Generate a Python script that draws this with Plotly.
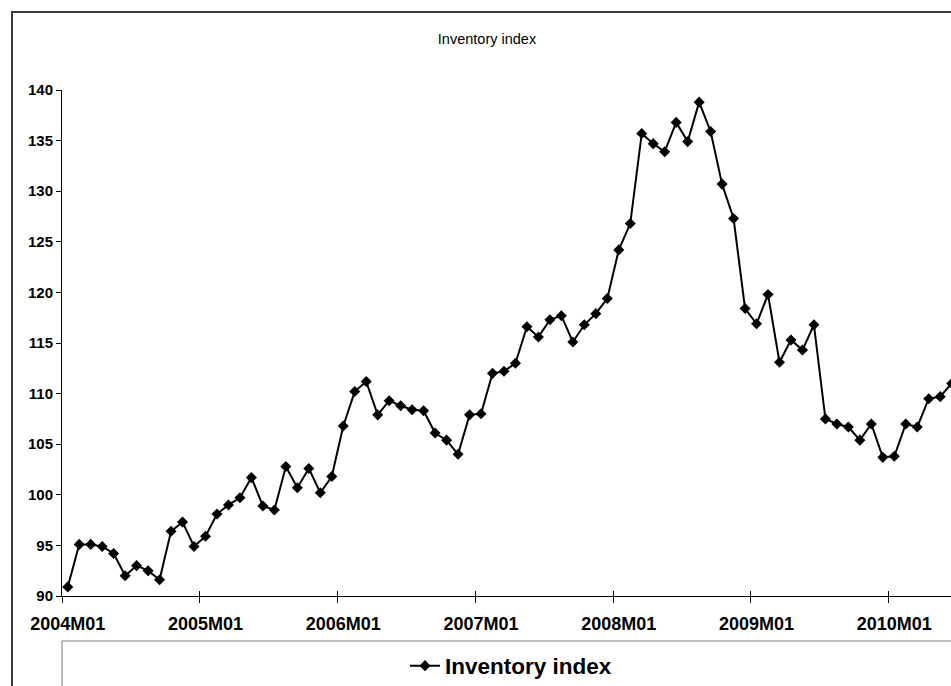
import plotly.graph_objects as go

# Monthly inventory index, starting 2004M01
start_year = 2004
inventory_index = [
    90.9, 95.1, 95.1, 94.9, 94.2, 92.0, 93.0, 92.5, 91.6, 96.4, 97.3, 94.9,
    95.9, 98.1, 99.0, 99.7, 101.7, 98.9, 98.5, 102.8, 100.7, 102.6, 100.2, 101.8,
    106.8, 110.2, 111.2, 107.9, 109.3, 108.8, 108.4, 108.3, 106.1, 105.4, 104.0, 107.9,
    108.0, 112.0, 112.2, 113.0, 116.6, 115.6, 117.3, 117.7, 115.1, 116.8, 117.9, 119.4,
    124.2, 126.8, 135.7, 134.7, 133.9, 136.8, 134.9, 138.8, 135.9, 130.7, 127.3, 118.4,
    116.9, 119.8, 113.1, 115.3, 114.3, 116.8, 107.5, 107.0, 106.7, 105.4, 107.0, 103.7,
    103.8, 107.0, 106.7, 109.5, 109.7, 111.0,
]
y_ticks = [90, 95, 100, 105, 110, 115, 120, 125, 130, 135, 140]

periods = [f"{start_year + i // 12}M{i % 12 + 1:02d}" for i in range(len(inventory_index))]
x_idx = list(range(len(inventory_index)))
year_starts = [i for i, p in enumerate(periods) if p.endswith("M01")]

W, H = 951, 686
L, R, T, B = 62, 0, 90, 90
plot_w = W - L - R
plot_h = H - T - B
cat_px = 11.48
x_range = [-0.5, -0.5 + plot_w / cat_px]


def px_x(px):
    return (px - L) / plot_w


def px_y(py):
    return (H - B - py) / plot_h


FONT = "Arial, Liberation Sans, sans-serif"

fig = go.Figure()
fig.add_trace(go.Scatter(
    x=x_idx, y=inventory_index, name="Inventory index",
    mode="lines+markers",
    line=dict(color="#000000", width=2),
    marker=dict(symbol="diamond", size=8.5, color="#000000"),
    cliponaxis=True,
))
# empty traces so the overlay axes (labels / upper tick marks) get drawn
for ax_name in ("x2", "x3"):
    fig.add_trace(go.Scatter(x=[], y=[], xaxis=ax_name, yaxis="y",
                             showlegend=False, hoverinfo="skip"))

axis_common = dict(range=x_range, showgrid=False, zeroline=False)

fig.update_layout(
    width=W, height=H,
    margin=dict(l=L, r=R, t=T, b=B, autoexpand=False),
    paper_bgcolor="white", plot_bgcolor="white",
    font=dict(family=FONT, color="#000000"),
    showlegend=True,
    title=dict(text="Inventory index", x=487 / W, xref="container", xanchor="center",
               y=1 - 39 / H, yref="container", yanchor="middle",
               font=dict(size=14.5, family=FONT, color="#000000")),
    # boundary tick marks below the axis line
    xaxis=dict(**axis_common, tickmode="array",
               tickvals=[i - 0.5 for i in year_starts], showticklabels=False,
               ticks="outside", ticklen=6, tickwidth=1, tickcolor="#000000",
               showline=True, linecolor="#000000", linewidth=1),
    # year labels centred on each January
    xaxis2=dict(**axis_common, overlaying="x", anchor="y", side="bottom",
                tickmode="array", tickvals=year_starts,
                ticktext=[periods[i] for i in year_starts],
                ticks="outside", ticklen=11, tickcolor="rgba(0,0,0,0)",
                tickfont=dict(size=18, family=FONT, weight="bold", color="#000000"),
                showline=False),
    # boundary tick marks above the axis line
    xaxis3=dict(**axis_common, overlaying="x", anchor="y", side="bottom",
                tickmode="array", tickvals=[i - 0.5 for i in year_starts],
                showticklabels=False, ticks="inside", ticklen=5, tickwidth=1,
                tickcolor="#000000", showline=False),
    yaxis=dict(range=[90, 140], tickmode="array", tickvals=y_ticks,
               showgrid=False, zeroline=False,
               ticks="outside", ticklen=5, tickwidth=1, tickcolor="#000000",
               showline=True, linecolor="#000000", linewidth=1,
               tickfont=dict(size=15, family=FONT, weight="bold", color="#000000")),
    legend=dict(orientation="h", x=px_x(405), xanchor="left",
                y=px_y(666), yanchor="middle", bgcolor="rgba(0,0,0,0)",
                font=dict(size=22.5, family=FONT, weight="bold", color="#000000")),
    shapes=[
        # chart area border
        dict(type="rect", xref="paper", yref="paper",
             x0=px_x(12), y0=px_y(H + 40), x1=px_x(W + 40), y1=px_y(12),
             line=dict(color="#3a3a3a", width=2), fillcolor="rgba(0,0,0,0)", layer="below"),
        # legend box
        dict(type="rect", xref="paper", yref="paper",
             x0=px_x(62), y0=px_y(H + 40), x1=px_x(W + 40), y1=px_y(641),
             line=dict(color="#7a7a7a", width=1), fillcolor="rgba(0,0,0,0)", layer="below"),
    ],
)

fig.write_html("out.html")
